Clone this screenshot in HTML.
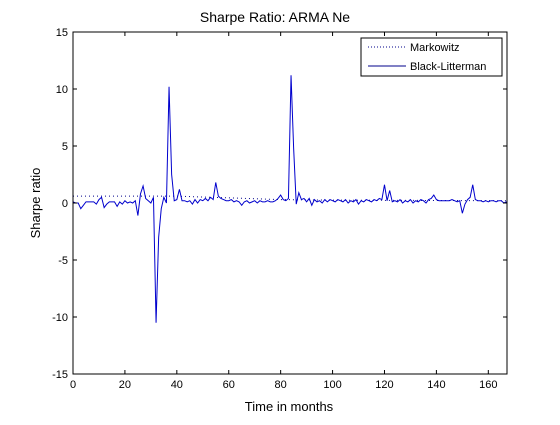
<!DOCTYPE html>
<html><head><meta charset="utf-8"><style>
body{margin:0;background:#fff;}
svg text{font-family:"Liberation Sans",Arial,sans-serif;}
</style></head><body>
<svg id="chart" width="560" height="420" viewBox="0 0 560 420" xmlns="http://www.w3.org/2000/svg">
<rect width="560" height="420" fill="#fff"/>
<text x="275" y="22" font-size="14" text-anchor="middle" fill="#000">Sharpe Ratio: ARMA Ne</text>
<text x="289" y="411" font-size="13" text-anchor="middle" fill="#000">Time in months</text>
<text transform="translate(40,203) rotate(-90)" font-size="13" text-anchor="middle" fill="#000">Sharpe ratio</text>
<g id="grid"></g>
<g id="series"></g>
<rect x="73" y="32" width="434" height="342" fill="none" stroke="#000" stroke-width="1"/>
<g id="ticks"></g>
<g>
<rect x="361" y="38" width="141" height="38" fill="#fff" stroke="#000" stroke-width="1"/>
<line x1="368" y1="47" x2="406" y2="47" stroke="#00008b" stroke-dasharray="1,2"/>
<text x="410" y="51" font-size="11">Markowitz</text>
<line x1="368" y1="66" x2="406" y2="66" stroke="#00008b"/>
<text x="410" y="70" font-size="11">Black-Litterman</text>
</g>
</svg>
<script>
const xTicks=[0,20,40,60,80,100,120,140,160];
const yTicks=[-15,-10,-5,0,5,10,15];
const blackLitterman=[0.1,0,0,-0.5,-0.2,0.1,0.1,0.1,0.1,-0.1,0.3,
0.5,-0.4,-0.1,0.1,0.1,0.1,-0.3,0.1,-0.1,0.2,0,0.1,0,0.2,-1.1,0.8,1.5,0.4,0.2,0,
0.5,-10.5,-3,-0.5,0.5,0,10.2,2.5,0.2,0.3,1.2,0.2,0.2,0.1,0.2,-0.1,0.3,0,0.3,0.2,
0.4,0.2,0.5,0.3,1.8,0.6,0.4,0.3,0.2,0.2,0.3,0.1,0.2,0.1,-0.2,0.1,0.2,0,0.1,0.2,
0,0.2,0.1,0.1,0.2,0.1,0.1,0.2,0.4,0.7,0.3,0.2,0.4,11.2,4.8,-0.1,0.9,0.3,0.4,0.1,
0.4,-0.2,0.3,0.1,0.2,0,0.3,0.1,0.3,0.2,0.1,0.3,0.2,0.1,0.3,0,0.2,0.1,0.3,-0.1,
0.2,0.1,0.3,0.2,0.1,0.3,0.2,0.4,0.3,1.6,0.2,1.1,0.1,0.2,0.1,0.3,0,0.2,0.1,0.3,
0,0.2,0.1,0.3,0.2,0,0.3,0.4,0.7,0.3,0.2,0.2,0.2,0.2,0.2,0.3,0.2,0.1,0.2,-0.9,
-0.1,0.3,0.5,1.6,0.3,0.2,0.2,0.1,0.2,0.1,0.2,0.2,0.1,0.2,0.2,0,0.1];
const markowitzMonths=[0,40,60,80,100,167];
const markowitzValues=[0.6,0.6,0.45,0.3,0.25,0.2];
const X0=73,X1=507,Y0=374,Y1=32,XMIN=0,XMAX=167.2,YMIN=-15,YMAX=15;
const sx=v=>X0+(v-XMIN)/(XMAX-XMIN)*(X1-X0);
const sy=v=>Y0-(v-YMIN)/(YMAX-YMIN)*(Y0-Y1);
const NS="http://www.w3.org/2000/svg";
const ticks=document.getElementById('ticks');
const series=document.getElementById('series');
function mk(tag,attrs,parent){const e=document.createElementNS(NS,tag);for(const k in attrs)e.setAttribute(k,attrs[k]);parent.appendChild(e);return e;}
xTicks.forEach(t=>{
  const x=sx(t);
  const a=mk('line',{x1:x,y1:Y0,x2:x,y2:Y0-4,stroke:'#000'},ticks);
  
  
  const b=mk('line',{x1:x,y1:Y1,x2:x,y2:Y1+4,stroke:'#000'},ticks);
  
  
  const l=mk('text',{x:x,y:Y0+14,'font-size':11,'text-anchor':'middle'},ticks);
  l.textContent=t;
  
  
});
yTicks.forEach(t=>{
  const y=sy(t);
  const a=mk('line',{x1:X0,y1:y,x2:X0+4,y2:y,stroke:'#000'},ticks);
  
  
  const b=mk('line',{x1:X1,y1:y,x2:X1-4,y2:y,stroke:'#000'},ticks);
  
  
  const l=mk('text',{x:X0-5,y:y+4,'font-size':11,'text-anchor':'end'},ticks);
  l.textContent=t;
  
  
});
const mp=mk('polyline',{points:markowitzMonths.map((m,i)=>sx(m)+','+sy(markowitzValues[i])).join(' '),fill:'none',stroke:'#00008b','stroke-dasharray':'1,3','stroke-width':1},series);


const bp=mk('polyline',{points:blackLitterman.map((v,i)=>sx(i)+','+sy(v)).join(' '),fill:'none',stroke:'#0000cd','stroke-width':1},series);


</script>
</body></html>
